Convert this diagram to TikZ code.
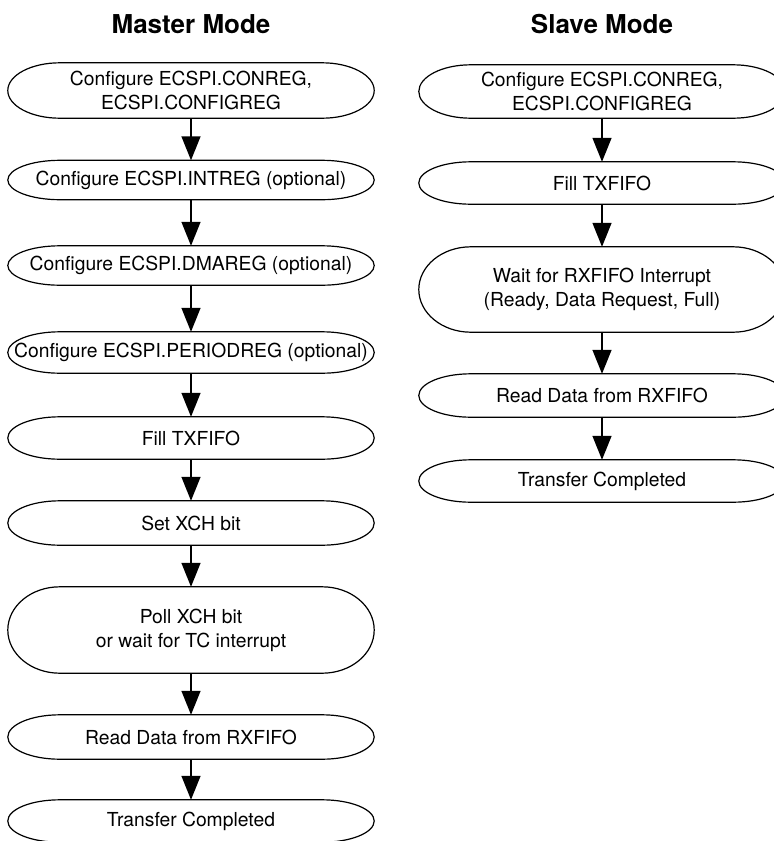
\documentclass[tikz,border=0pt]{standalone}
\usepackage{fontspec}
\setmainfont{TeX Gyre Heros}
\usetikzlibrary{arrows.meta,calc}
\tikzset{
  tbox/.style={draw=none, rectangle, inner sep=0pt, align=center,
    minimum width=366pt, font=\fontsize{19.3}{24}\selectfont},
  title/.style={font=\fontsize{26}{31}\selectfont\bfseries},
  boxline/.style={line width=1.2pt},
  arr/.style={line width=1.4pt, -{Triangle[length=24pt,width=19pt]}},
}
\newcommand\tbout[1]{%
  \draw[boxline] let \p1=(#1.north), \p2=(#1.south), \n1={(\y1-\y2)/2} in
    ([xshift=52pt]#1.north west) -- ([xshift=-52pt]#1.north east)
    arc[start angle=90, end angle=-90, x radius=52pt, y radius=\n1]
    -- ([xshift=52pt]#1.south west)
    arc[start angle=270, end angle=90, x radius=52pt, y radius=\n1] -- cycle;}
\begin{document}
\begin{tikzpicture}[x=1pt,y=-1pt]
\useasboundingbox (0,0) rectangle (774,841);
\clip (0,0) rectangle (774,841);
% Master mode
\node[title] (mt) at (191,24) {Master Mode};
\node[tbox, minimum height=55pt] (m1) at (191,90.5) {Configure ECSPI.CONREG,\\ECSPI.CONFIGREG};
\node[tbox, minimum height=39pt] (m2) at (191,180) {Configure ECSPI.INTREG (optional)};
\node[tbox, minimum height=39pt] (m3) at (191,265.5) {Configure ECSPI.DMAREG (optional)};
\node[tbox, minimum height=41pt] (m4) at (191,352.5) {Configure ECSPI.PERIODREG (optional)};
\node[tbox, minimum height=42pt] (m5) at (191,438) {Fill TXFIFO};
\node[tbox, minimum height=44pt] (m6) at (191,523) {Set XCH bit};
\node[tbox, minimum height=86pt] (m7) at (191,630) {Poll XCH bit\\or wait for TC interrupt};
\node[tbox, minimum height=44pt] (m8) at (191,737) {Read Data from RXFIFO};
\node[tbox, minimum height=42pt] (m9) at (191,821) {Transfer Completed};
\foreach \q in {m1,m2,m3,m4,m5,m6,m7,m8,m9} {\tbout{\q}}
\foreach \a/\b in {m1/m2,m2/m3,m3/m4,m4/m5,m5/m6,m6/m7,m7/m8,m8/m9}
  {\draw[arr] (\a.south) -- (\b.north);}
% Slave mode
\node[title] (st) at (602,24) {Slave Mode};
\node[tbox, minimum height=53pt] (s1) at (602,91.5) {Configure ECSPI.CONREG,\\ECSPI.CONFIGREG};
\node[tbox, minimum height=42pt] (s2) at (602,183) {Fill TXFIFO};
\node[tbox, minimum height=85pt] (s3) at (602,289.5) {Wait for RXFIFO Interrupt\\(Ready, Data Request, Full)};
\node[tbox, minimum height=43pt] (s4) at (602,395.5) {Read Data from RXFIFO};
\node[tbox, minimum height=42pt] (s5) at (602,481) {Transfer Completed};
\foreach \q in {s1,s2,s3,s4,s5} {\tbout{\q}}
\foreach \a/\b in {s1/s2,s2/s3,s3/s4,s4/s5}
  {\draw[arr] (\a.south) -- (\b.north);}
\end{tikzpicture}
\end{document}
